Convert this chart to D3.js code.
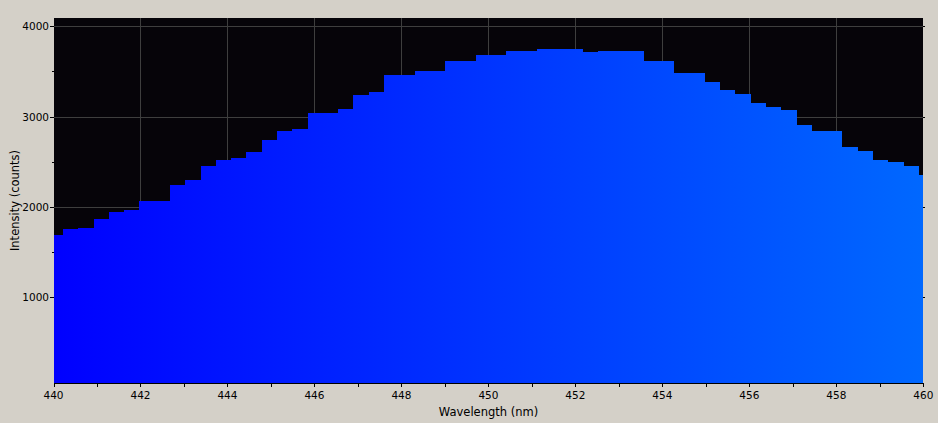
<!DOCTYPE html>
<html lang="en">
<head>
    <meta charset="UTF-8">
    <title>Spectrum 440-460 nm</title>
    <script src="https://d3js.org/d3.v7.min.js"></script>
    <style>
        body { margin: 0; background: #d4d0c8; }
        svg text { font-family: "DejaVu Sans", sans-serif; font-size: 10.5px; fill: #000; }
        svg text.title { font-size: 11.5px; }
    </style>
</head>
<body>

<div id="chart"></div>
<script>

  // Pixel bin edges (nm) - one more edge than counts
  const binEdges = [
    439.867, 440.218, 440.570, 440.921, 441.273, 441.624, 441.975, 442.327, 442.678, 443.030,
    443.381, 443.732, 444.084, 444.435, 444.787, 445.138, 445.490, 445.841, 446.192, 446.544,
    446.895, 447.247, 447.598, 447.949, 448.301, 448.652, 449.004, 449.355, 449.707, 450.058,
    450.409, 450.761, 451.112, 451.464, 451.815, 452.166, 452.518, 452.869, 453.221, 453.572,
    453.924, 454.275, 454.626, 454.978, 455.329, 455.681, 456.032, 456.383, 456.735, 457.086,
    457.438, 457.789, 458.140, 458.492, 458.843, 459.195, 459.546, 459.898, 460.249
  ];

  // Intensity per bin (counts)
  const counts = [
    1687, 1753, 1766, 1864, 1942, 1964, 2064, 2064, 2241, 2296,
    2452, 2518, 2540, 2607, 2740, 2839, 2862, 3039, 3039, 3083,
    3238, 3272, 3460, 3460, 3504, 3504, 3615, 3615, 3682, 3682,
    3726, 3726, 3748, 3748, 3748, 3715, 3726, 3726, 3726, 3615,
    3615, 3482, 3482, 3383, 3294, 3249, 3150, 3105, 3072, 2906,
    2839, 2839, 2662, 2618, 2518, 2496, 2452, 2352
  ];

  const xMajorTicks = [440, 442, 444, 446, 448, 450, 452, 454, 456, 458, 460];
  const xMinorTicks = [441, 443, 445, 447, 449, 451, 453, 455, 457, 459];
  const yMajorTicks = [1000, 2000, 3000, 4000];
  const yMinorTicks = [1500, 2500, 3500];

  const W = 938, H = 423;
  const plot = { left: 54, top: 18, right: 923, bottom: 383 };

  const svg = d3.select("#chart")
    .append("svg")
      .attr("width", W)
      .attr("height", H);

  const x = d3.scaleLinear().domain([440, 460]).range([53.5, 923.3]);
  const y = d3.scaleLinear().domain([0, 4000]).range([387.2, 26.3]);

  // clip + gradient
  const defs = svg.append("defs");
  defs.append("clipPath").attr("id", "plotClip")
    .append("rect")
      .attr("x", plot.left).attr("y", plot.top)
      .attr("width", plot.right - plot.left).attr("height", plot.bottom - plot.top);

  const grad = defs.append("linearGradient")
    .attr("id", "blueGrad")
    .attr("gradientUnits", "userSpaceOnUse")
    .attr("x1", x(440)).attr("x2", x(460)).attr("y1", 0).attr("y2", 0);
  grad.append("stop").attr("offset", "0%").attr("stop-color", "#0000ff");
  grad.append("stop").attr("offset", "100%").attr("stop-color", "#0068ff");

  // plot background
  svg.append("rect")
    .attr("x", plot.left).attr("y", plot.top)
    .attr("width", plot.right - plot.left).attr("height", plot.bottom - plot.top)
    .attr("fill", "#060409");

  // grid
  const grid = svg.append("g").attr("stroke", "#3e3e3e").attr("stroke-width", 1);
  grid.selectAll("line.vx")
    .data(xMajorTicks.filter(d => d > 440 && d < 460))
    .join("line")
      .attr("x1", d => Math.round(x(d)) + 0.5).attr("x2", d => Math.round(x(d)) + 0.5)
      .attr("y1", plot.top).attr("y2", plot.bottom);
  grid.selectAll("line.hy")
    .data(yMajorTicks)
    .join("line")
      .attr("y1", d => Math.round(y(d)) + 0.5).attr("y2", d => Math.round(y(d)) + 0.5)
      .attr("x1", plot.left).attr("x2", plot.right);

  // spectrum as step area
  const pts = binEdges.map((w, i) => ({ w: w, c: counts[Math.min(i, counts.length - 1)] }));
  const area = d3.area()
    .curve(d3.curveStepAfter)
    .x(d => x(d.w))
    .y0(y(0))
    .y1(d => y(d.c));

  svg.append("path")
    .datum(pts)
    .attr("clip-path", "url(#plotClip)")
    .attr("fill", "url(#blueGrad)")
    .attr("shape-rendering", "crispEdges")
    .attr("d", area);

  // bottom axis
  const axisG = svg.append("g").attr("stroke", "#000").attr("shape-rendering", "crispEdges");
  axisG.append("line")
    .attr("x1", plot.left).attr("x2", plot.right + 1)
    .attr("y1", plot.bottom + 0.5).attr("y2", plot.bottom + 0.5);
  axisG.selectAll("line.xt")
    .data(xMajorTicks.concat(xMinorTicks))
    .join("line")
      .attr("x1", d => Math.round(x(d)) + 0.5).attr("x2", d => Math.round(x(d)) + 0.5)
      .attr("y1", plot.bottom).attr("y2", plot.bottom + 4);

  // left and right y ticks
  axisG.selectAll("line.ytl")
    .data(yMajorTicks)
    .join("line")
      .attr("x1", plot.left - 4).attr("x2", plot.left)
      .attr("y1", d => Math.round(y(d)) + 0.5).attr("y2", d => Math.round(y(d)) + 0.5);
  axisG.selectAll("line.ytm")
    .data(yMinorTicks)
    .join("line")
      .attr("x1", plot.left - 2).attr("x2", plot.left)
      .attr("y1", d => Math.round(y(d)) + 0.5).attr("y2", d => Math.round(y(d)) + 0.5);
  axisG.selectAll("line.ytr")
    .data(yMajorTicks)
    .join("line")
      .attr("x1", plot.right).attr("x2", plot.right + 2)
      .attr("y1", d => Math.round(y(d)) + 0.5).attr("y2", d => Math.round(y(d)) + 0.5);

  // tick labels
  svg.append("g").selectAll("text")
    .data(xMajorTicks)
    .join("text")
      .attr("x", d => x(d))
      .attr("y", 399)
      .attr("text-anchor", "middle")
      .text(d => d);

  svg.append("g").selectAll("text")
    .data(yMajorTicks)
    .join("text")
      .attr("x", 49)
      .attr("y", d => y(d) + 4)
      .attr("text-anchor", "end")
      .text(d => d);

  // axis titles
  svg.append("text")
    .attr("class", "title")
    .attr("x", (plot.left + plot.right) / 2)
    .attr("y", 416)
    .attr("text-anchor", "middle")
    .text("Wavelength (nm)");

  svg.append("text")
    .attr("class", "title")
    .attr("transform", `translate(19,${(plot.top + plot.bottom) / 2}) rotate(-90)`)
    .attr("text-anchor", "middle")
    .text("Intensity (counts)");

</script>

</body>
</html>
